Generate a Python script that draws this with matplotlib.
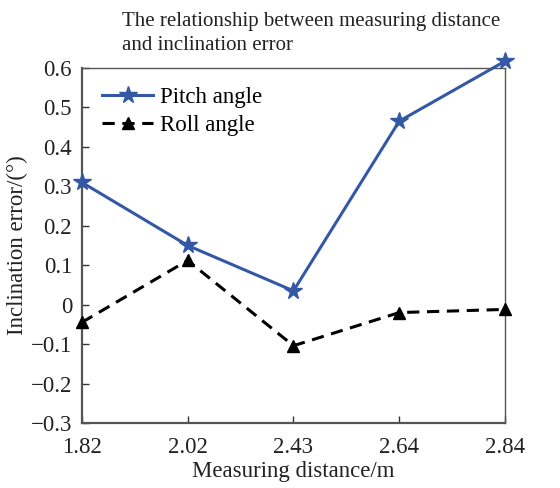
import matplotlib.pyplot as plt
import numpy as np

plt.rcParams['font.family'] = ['Liberation Serif', 'DejaVu Serif']

#===============================================================================
distances = ["1.82", "2.02", "2.43", "2.64", "2.84"]
pitch_angle = [0.31, 0.15, 0.035, 0.465, 0.617]
roll_angle = [-0.045, 0.112, -0.104, -0.02, -0.012]
y_ticks = [-0.3, -0.2, -0.1, 0, 0.1, 0.2, 0.3, 0.4, 0.5, 0.6]

#===============================================================================
fig = plt.figure(figsize=(5.6, 4.88), dpi=100)
ax = fig.add_axes([0.146, 0.133, 0.756, 0.728])

x = np.arange(len(distances))

ax.plot(x, pitch_angle, color="#3358a6", linewidth=2.2, marker="*",
        markersize=13, label="Pitch angle", clip_on=False, zorder=3)
ax.plot(x, roll_angle, color="black", linewidth=2.2, linestyle=(0, (4, 2.5)),
        marker="^", markersize=8, label="Roll angle", clip_on=False, zorder=3)

ax.set_xlim(0, len(distances) - 1)
ax.set_ylim(-0.3, 0.6)
ax.set_xticks(x)
ax.set_xticklabels(distances)
ax.set_yticks(y_ticks)
ax.set_yticklabels(["\u22120.3", "\u22120.2", "\u22120.1", "0", "0.1", "0.2",
                    "0.3", "0.4", "0.5", "0.6"])

ax.tick_params(direction="in", length=5, width=1, labelsize=16.5, pad=7,
               colors="#333333", labelcolor="#222222")
ax.tick_params(axis="x", pad=10)

for side in ["left", "bottom"]:
    ax.spines[side].set_linewidth(1.6)
    ax.spines[side].set_color("#555555")
for side in ["top", "right"]:
    ax.spines[side].set_linewidth(1.0)
    ax.spines[side].set_color("#555555")

ax.set_xlabel("Measuring distance/m", fontsize=16.5, color="#222222", labelpad=2)
ax.set_ylabel("Inclination error/(°)", fontsize=16.5, color="#222222", labelpad=2)

fig.text(0.218, 0.975, "The relationship between measuring distance\nand inclination error",
         fontsize=15, color="#222222", ha="left", va="top", linespacing=1.35)

ax.legend(loc="upper left", bbox_to_anchor=(0.0, 1.005), frameon=False,
          fontsize=16.5, handlelength=2.2, handletextpad=0.3, labelspacing=0.3)

fig.savefig("out.png", dpi=100)
